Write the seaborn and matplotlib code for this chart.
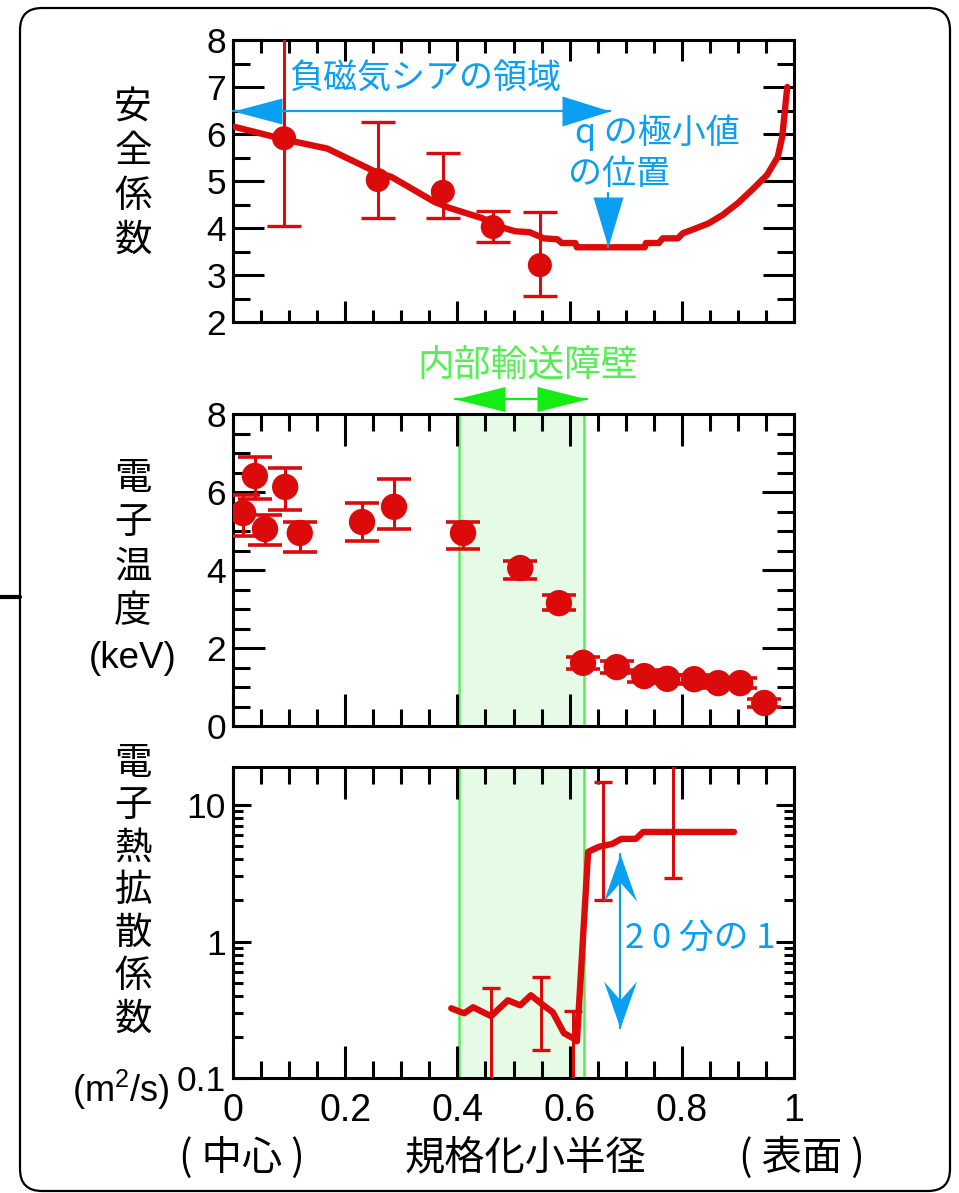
import numpy as np
import matplotlib
matplotlib.use("Agg")
import matplotlib.pyplot as plt
import seaborn as sns
from matplotlib.patches import FancyBboxPatch
from matplotlib.lines import Line2D
from matplotlib.path import Path
from matplotlib.transforms import IdentityTransform, Affine2D
from matplotlib.ticker import MultipleLocator, LogLocator, NullFormatter, FuncFormatter

# ---------------- data ----------------
# safety factor profile q(rho)
q_rho = [0.0, 0.093, 0.168, 0.255, 0.282, 0.36, 0.385, 0.444, 0.483, 0.503,
         0.529, 0.554, 0.578, 0.586, 0.61, 0.613, 0.734, 0.736, 0.759, 0.766,
         0.793, 0.802, 0.818, 0.848, 0.873, 0.9, 0.925, 0.952, 0.971, 0.979, 0.988]
q_prof = [6.16, 5.88, 5.69, 5.19, 5.09, 4.55, 4.43, 4.21, 4.0, 3.93,
          3.91, 3.78, 3.76, 3.68, 3.68, 3.59, 3.59, 3.68, 3.68, 3.78,
          3.78, 3.89, 3.96, 4.1, 4.28, 4.53, 4.81, 5.13, 5.51, 5.94, 7.0]
# measured q with error range
qm_rho = [0.091, 0.258, 0.374, 0.463, 0.547]
qm_val = [5.91, 5.02, 4.77, 4.02, 3.21]
qm_lo = [4.04, 4.21, 4.21, 3.70, 2.55]
qm_hi = [8.6, 6.26, 5.60, 4.36, 4.34]

# electron temperature (keV)
te_rho = [0.018, 0.039, 0.057, 0.093, 0.119, 0.23, 0.287, 0.41, 0.512, 0.581,
          0.624, 0.684, 0.733, 0.774, 0.822, 0.865, 0.904, 0.947]
te_val = [5.46, 6.41, 5.05, 6.13, 4.95, 5.23, 5.62, 4.95, 4.05, 3.15,
          1.62, 1.51, 1.28, 1.21, 1.20, 1.10, 1.10, 0.59]
te_lo = [4.87, 5.82, 4.64, 5.54, 4.46, 4.74, 5.05, 4.54, 3.77, 2.97,
         1.47, 1.36, 1.13, 1.10, 1.08, 0.98, 0.98, 0.49]
te_hi = [5.92, 6.90, 5.41, 6.62, 5.23, 5.72, 6.33, 5.23, 4.23, 3.36,
         1.77, 1.66, 1.43, 1.31, 1.32, 1.22, 1.22, 0.69]

# electron thermal diffusivity (m^2/s)
chi_rho = [0.389, 0.412, 0.428, 0.46, 0.49, 0.512, 0.531, 0.551, 0.57, 0.59,
           0.606, 0.613, 0.633, 0.652, 0.676, 0.692, 0.718, 0.731, 0.893]
chi_val = [0.324, 0.298, 0.33, 0.284, 0.371, 0.341, 0.404, 0.347, 0.303, 0.213,
           0.196, 0.186, 4.54, 4.94, 5.19, 5.65, 5.65, 6.35, 6.35]
chie_rho = [0.46, 0.549, 0.606, 0.66, 0.784]
chie_val = [0.284, 0.35, 0.196, 4.94, 6.35]
chie_lo = [0.05, 0.16, 0.05, 2.0, 2.93]
chie_hi = [0.454, 0.546, 0.31, 14.7, 40.0]

# internal transport barrier region
itb = [0.402, 0.625]

# annotation anchors
nms_span = [0.0, 0.672]       # negative magnetic shear region
nms_level = 6.5
qmin_rho = 0.668
qmin_arrow = [4.74, 3.59]
drop_rho = 0.69
drop_range = [0.232, 4.39]

RED = "#dc0b0b"
BLUE = "#0a9ff0"
GREEN = "#14ec14"
GREEN_TXT = "#55ee55"
JP = ["Noto Sans CJK JP", "DejaVu Sans"]

sns.set_theme(style="ticks")
plt.rcParams["font.family"] = ["Liberation Sans", "Noto Sans CJK JP", "DejaVu Sans"]
plt.rcParams["text.color"] = "black"
plt.rcParams["mathtext.fontset"] = "custom"
plt.rcParams["mathtext.rm"] = "Liberation Sans"
plt.rcParams["mathtext.it"] = "Liberation Sans"

W, H = 959, 1193
fig = plt.figure(figsize=(W / 100, H / 100), dpi=100)


def px_axes(left, top, right, bottom):
    return fig.add_axes([left / W, 1 - bottom / H, (right - left) / W, (bottom - top) / H])


ax_q = px_axes(233, 40, 794, 322)
ax_t = px_axes(233, 414, 794, 726)
ax_c = px_axes(233, 767, 794, 1078)


def style(ax, xmaj, xmin, ymaj, ymin):
    ax.set_xlim(0, 1)
    ax.tick_params(which="both", direction="in", top=True, right=True,
                   width=2.2, color="black", labelsize=25.5, labelcolor="black")
    ax.tick_params(axis="x", which="major", length=xmaj)
    ax.tick_params(axis="x", which="minor", length=xmin)
    ax.tick_params(axis="y", which="major", length=ymaj, pad=5)
    ax.tick_params(axis="y", which="minor", length=ymin)
    ax.xaxis.set_major_locator(MultipleLocator(0.2))
    ax.xaxis.set_minor_locator(MultipleLocator(0.05))
    for s in ax.spines.values():
        s.set_visible(True)
        s.set_linewidth(2.2)
        s.set_color("black")
    ax.set_xlabel("")
    ax.set_ylabel("")


def head_path(angle_deg, width, notch):
    # unit-length arrow head, tip at the origin, pointing along +y before rotation
    verts = np.array([(0, 0), (width / 2, -1), (0, -notch), (-width / 2, -1), (0, 0)])
    rot = Affine2D().rotate_deg(angle_deg)
    verts = rot.transform(verts)
    codes = [Path.MOVETO, Path.LINETO, Path.LINETO, Path.LINETO, Path.CLOSEPOLY]
    return Path(verts, codes)


def head(ax, x, y, angle, length_px, width_px, notch=1.0, color=BLUE, transform=None):
    ms = 2 * length_px * 0.72
    p = head_path(angle, width_px / length_px, notch)
    kw = dict(marker=p, ms=ms, color=color, mec="none", ls="none", clip_on=False, zorder=6)
    if transform is not None:
        kw["transform"] = transform
    ax.plot([x], [y], **kw)


# ---------------- panel 1 : safety factor ----------------
style(ax_q, 15, 9, 22, 12)
ax_q.set_ylim(2, 8)
ax_q.yaxis.set_major_locator(MultipleLocator(1))
ax_q.yaxis.set_minor_locator(MultipleLocator(0.5))
ax_q.set_xticklabels([])

sns.lineplot(x=q_rho, y=q_prof, ax=ax_q, color=RED, lw=4.6, sort=False,
             estimator=None, zorder=3)
qv = np.array(qm_val)
ax_q.errorbar(qm_rho, qm_val, yerr=[qv - np.array(qm_lo), np.array(qm_hi) - qv],
              fmt="none", ecolor=RED, elinewidth=2.2, capsize=12, capthick=2.4, zorder=3)
sns.scatterplot(x=qm_rho, y=qm_val, ax=ax_q, color=RED, s=300, edgecolor="none",
                zorder=4, legend=False)

ax_q.plot(nms_span, [nms_level] * 2, color=BLUE, lw=1.6, zorder=5, clip_on=False)
head(ax_q, nms_span[0], nms_level, 90, 49, 26)
head(ax_q, nms_span[1], nms_level, -90, 48, 30)
ax_q.text(0.101, 7.16, "負磁気シアの領域", color=BLUE, fontsize=24.5, family=JP,
          va="center", ha="left", zorder=6)
ax_q.text(0.61, 6.03, "q の極小値", color=BLUE, fontsize=24.5, family=JP,
          va="center", ha="left", zorder=6)
ax_q.text(0.597, 5.13, "の位置", color=BLUE, fontsize=24.5, family=JP,
          va="center", ha="left", zorder=6)
ax_q.plot([qmin_rho] * 2, qmin_arrow, color=BLUE, lw=1.6, zorder=5)
head(ax_q, qmin_rho, qmin_arrow[1], 180, 50, 30)

# ---------------- panel 2 : electron temperature ----------------
style(ax_t, 23, 12, 23, 12)
ax_t.set_ylim(0, 8)
ax_t.yaxis.set_major_locator(MultipleLocator(2))
ax_t.yaxis.set_minor_locator(MultipleLocator(0.5))
ax_t.set_xticklabels([])
ax_t.axvspan(itb[0], itb[1], facecolor="#e6fbe6", edgecolor=GREEN_TXT, lw=1.8, zorder=0)

tv = np.array(te_val)
ax_t.errorbar(te_rho, te_val, yerr=[tv - np.array(te_lo), np.array(te_hi) - tv],
              fmt="none", ecolor=RED, elinewidth=2.2, capsize=12, capthick=2.6, zorder=3)
sns.scatterplot(x=te_rho, y=te_val, ax=ax_t, color=RED, s=360, edgecolor="none",
                zorder=4, legend=False)

xt = ax_t.get_xaxis_transform()
ax_t.plot([0.396, 0.631], [1.048, 1.048], color=GREEN, lw=1.6, transform=xt,
          clip_on=False, zorder=5)
head(ax_t, 0.396, 1.048, 90, 50, 25, color=GREEN, transform=xt)
head(ax_t, 0.631, 1.048, -90, 50, 25, color=GREEN, transform=xt)
ax_t.text(0.526, 1.157, "内部輸送障壁", transform=xt, color=GREEN_TXT, fontsize=26.5,
          family=JP, ha="center", va="center")

# ---------------- panel 3 : thermal diffusivity ----------------
style(ax_c, 23, 12, 13, 7)
ax_c.set_yscale("log")
ax_c.set_ylim(0.1, 19)
ax_c.yaxis.set_major_locator(LogLocator(base=10, numticks=10))
ax_c.yaxis.set_minor_locator(LogLocator(base=10, subs=np.arange(2, 10), numticks=10))
ax_c.yaxis.set_minor_formatter(NullFormatter())
ax_c.yaxis.set_major_formatter(FuncFormatter(lambda v, _: "%g" % v))
ax_c.xaxis.set_major_formatter(FuncFormatter(lambda v, _: "%g" % round(v, 2)))
ax_c.tick_params(axis="x", which="major", pad=11, labelsize=27)
ax_c.axvspan(itb[0], itb[1], facecolor="#e6fbe6", edgecolor=GREEN_TXT, lw=1.8, zorder=0)

sns.lineplot(x=chi_rho, y=chi_val, ax=ax_c, color=RED, lw=4.6, sort=False,
             estimator=None, zorder=3)
cv = np.array(chie_val)
ax_c.errorbar(chie_rho, chie_val, yerr=[cv - np.array(chie_lo), np.array(chie_hi) - cv],
              fmt="none", ecolor=RED, elinewidth=2.2, capsize=6.5, capthick=2.4, zorder=3)

ax_c.plot([drop_rho] * 2, drop_range, color=BLUE, lw=1.6, zorder=5)
head(ax_c, drop_rho, drop_range[1], 0, 47, 33, notch=0.6)
head(ax_c, drop_rho, drop_range[0], 180, 47, 33, notch=0.6)
ax_c.text(0.699, 1.05, "2 0 分の 1", color=BLUE, fontsize=25, family=JP,
          ha="left", va="center", zorder=6)

# ---------------- axis titles ----------------
def vlabel(x, y, s, size=27, spacing=1.17):
    fig.text(x / W, 1 - y / H, "\n".join(s), fontsize=size, family=JP,
             ha="center", va="center", linespacing=spacing, color="black")


vlabel(133, 174, "安全係数")
vlabel(133, 545, "電子温度")
fig.text(133 / W, 1 - 658 / H, "(keV)", fontsize=26.5, ha="center", va="center", color="black")
vlabel(133, 891, "電子熱拡散係数", spacing=1.12)
fig.text(121 / W, 1 - 1090 / H, "(m$^2$/s)", fontsize=26, ha="center", va="center", color="black")

fig.text(242 / W, 1 - 1158 / H, "( 中心 )", fontsize=29, family=JP, ha="center", va="center")
fig.text(525 / W, 1 - 1158 / H, "規格化小半径", fontsize=29, family=JP, ha="center", va="center")
fig.text(802 / W, 1 - 1158 / H, "( 表面 )", fontsize=29, family=JP, ha="center", va="center")

# ---------------- outer frame ----------------
frame = FancyBboxPatch((20, 2), 930, 1183, boxstyle="round,pad=0,rounding_size=22",
                       transform=IdentityTransform(), fill=False, lw=1.6, ec="black")
fig.add_artist(frame)
fig.add_artist(Line2D([0, 20], [H - 597, H - 597], transform=IdentityTransform(),
                      lw=3, color="black"))

fig.savefig("out.png", dpi=100)
